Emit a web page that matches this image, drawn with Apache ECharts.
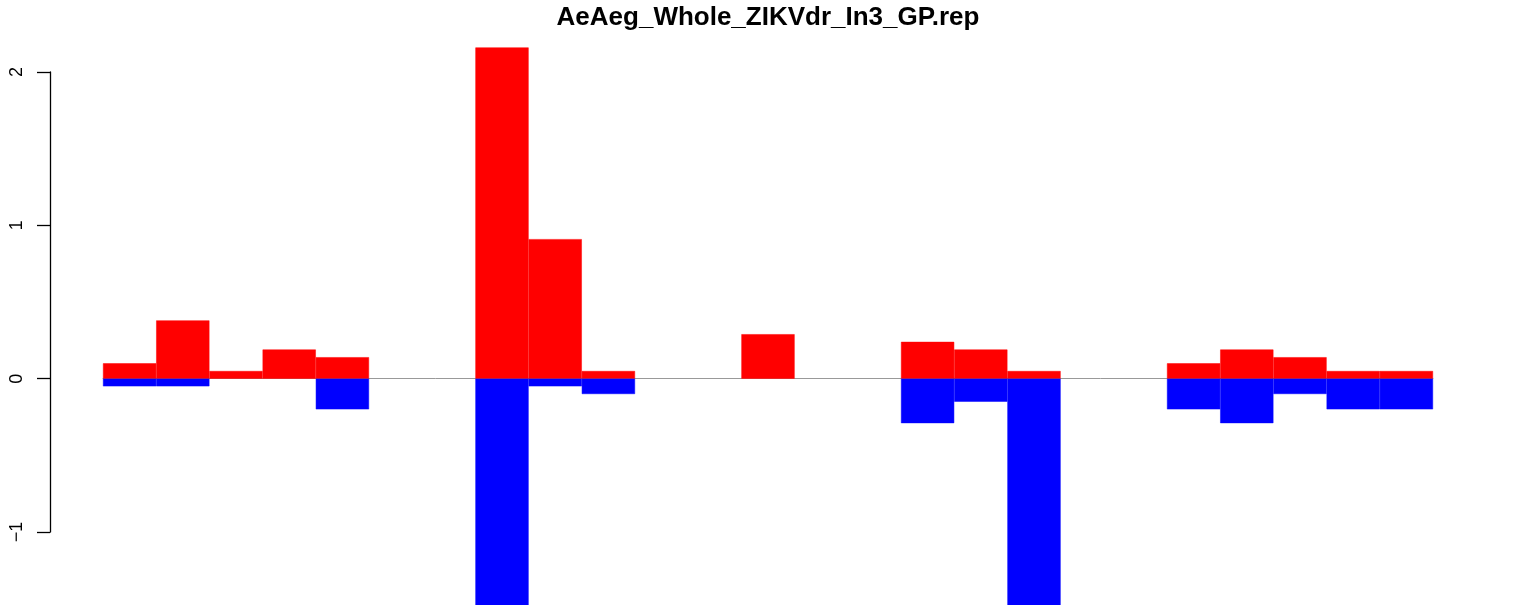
<!DOCTYPE html>
<html>
<head>
<meta charset="utf-8">
<title>AeAeg_Whole_ZIKVdr_In3_GP.rep</title>
<script src="https://cdn.jsdelivr.net/npm/echarts@6/dist/echarts.min.js"></script>
<style>
    html, body { margin: 0; padding: 0; background: #fff; }
    #main { width: 1536px; height: 605px; }
</style>
</head>
<body>
<div id="main"></div>
<script>
// 数据
var 标题 = 'AeAeg_Whole_ZIKVdr_In3_GP.rep';
var 类别 = ['1', '2', '3', '4', '5', '6', '7', '8', '9', '10', '11', '12', '13',
    '14', '15', '16', '17', '18', '19', '20', '21', '22', '23', '24', '25'];
var 正值 = [0.1, 0.38, 0.05, 0.19, 0.14, 0, 0, 2.16, 0.91, 0.05, 0, 0, 0.29,
    0, 0, 0.24, 0.19, 0.05, 0, 0, 0.1, 0.19, 0.14, 0.05, 0.05];
var 负值 = [-0.05, -0.05, 0, 0, -0.2, 0, 0, -1.5, -0.05, -0.1, 0, 0, 0,
    0, 0, -0.29, -0.15, -1.5, 0, 0, -0.2, -0.29, -0.1, -0.2, -0.2];
var 刻度 = [-1, 0, 1, 2];

// 0 值不画柱子
function 去零(arr) {
    return arr.map(function (v) { return v == 0 ? '-' : v; });
}

var myChart = echarts.init(document.getElementById('main'));

var option = {
    backgroundColor: '#ffffff',
    animation: false,
    title: {
        text: 标题,
        left: 'center',
        top: 0,
        textStyle: {
            fontFamily: 'Liberation Sans',
            fontWeight: 'bold',
            fontSize: 26,
            color: '#000'
        }
    },
    grid: {
        left: 103,
        right: 103,
        top: 72,
        bottom: 73,
        containLabel: false
    },
    xAxis: {
        type: 'category',
        data: 类别,
        boundaryGap: true,
        axisLine: { show: true, onZero: true, lineStyle: { color: '#999', width: 1 } },
        axisTick: { show: false },
        axisLabel: { show: false },
        splitLine: { show: false }
    },
    yAxis: {
        type: 'value',
        min: 刻度[0],
        max: 刻度[刻度.length - 1],
        interval: 1,
        offset: 53,
        axisLine: { show: true, lineStyle: { color: '#000', width: 1.3 } },
        axisTick: { show: true, inside: false, length: 13, lineStyle: { color: '#000', width: 1.3 } },
        axisLabel: {
            rotate: 90,
            margin: 24,
            fontFamily: 'Liberation Sans',
            fontSize: 18,
            color: '#000',
            formatter: function (v) {
                return String(v).replace('-', '\u2212');
            }
        },
        splitLine: { show: false }
    },
    series: [{
        name: '正',
        type: 'bar',
        data: 去零(正值),
        stack: 'all',
        barWidth: '100%',
        clip: false,
        itemStyle: { color: '#ff0000', borderColor: '#ff0000', borderWidth: 0.5 }
    },
    {
        name: '负',
        type: 'bar',
        data: 去零(负值),
        stack: 'all',
        barWidth: '100%',
        clip: false,
        itemStyle: { color: '#0000ff', borderColor: '#0000ff', borderWidth: 0.5 }
    }]
};

myChart.setOption(option);
</script>
</body>
</html>
